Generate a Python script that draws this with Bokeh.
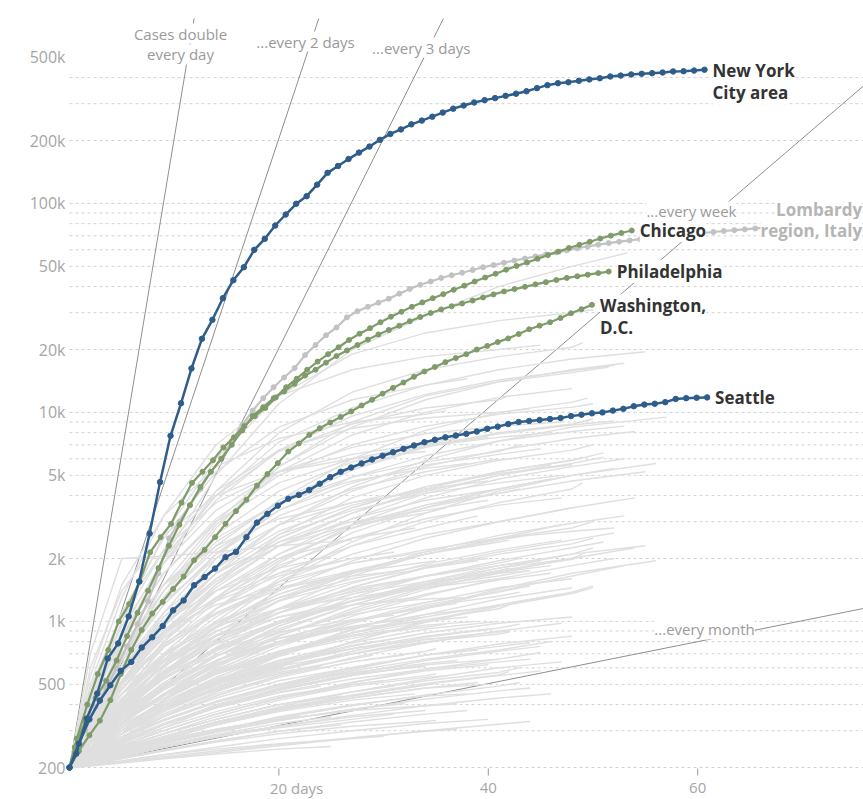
import math

from bokeh.plotting import figure
from bokeh.models import Range1d, Label
from bokeh.core.properties import value
from bokeh.embed import file_html
from bokeh.resources import INLINE

# ---------------------------------------------------------------- data
# Cumulative cases, by days since the 200th case (log scale).
nyc_first = 0.65
nyc = [200, 233, 343, 452, 664, 785, 1056, 1554, 2634, 4640, 7730, 11060, 16220,
       22500, 27740, 35200, 42900, 49500, 60000, 67700, 78400, 88500, 99600,
       108300, 123000, 140000, 151000, 163000, 175000, 187000, 201500, 215000,
       226000, 239000, 249000, 260000, 272000, 284000, 294000, 304000, 312000,
       319000, 327000, 335000, 344000, 356000, 368000, 376000, 380000, 386000,
       392000, 397000, 405000, 409000, 414000, 417000, 420000, 423000, 428000,
       429000, 432000, 436000]

chicago_first = 0.7
chicago = [200, 275, 400, 560, 730, 1000, 1210, 1550, 2140, 2530, 2930, 3700, 4600,
           5200, 5900, 6800, 7600, 8600, 9600, 10500, 11800, 13200, 14500, 16000,
           17500, 19000, 20500, 22200, 23800, 25300, 27000, 28700, 30300, 32000,
           33600, 35200, 36800, 38600, 40400, 42300, 44200, 46100, 48200, 50200,
           52200, 54300, 56600, 58800, 61200, 63400, 65600, 67900, 70100, 72200,
           74200]

philly_first = 0.5
philly = [200, 250, 330, 430, 520, 650, 850, 1100, 1400, 1800, 2300, 2900, 3600,
          4400, 5200, 6000, 7000, 8200, 9600, 10600, 11700, 12600, 13700, 15000,
          16000, 17300, 18600, 19800, 21000, 22300, 23600, 24800, 26000, 27300,
          28600, 29900, 31100, 32200, 33200, 34300, 35500, 36700, 37900, 38900,
          39900, 41000, 42000, 43000, 44000, 44800, 45600, 46400, 47200]

dc_first = 0.9
dc = [200, 240, 285, 335, 420, 560, 730, 910, 1090, 1240, 1430, 1640, 1960, 2200,
      2530, 2930, 3370, 3820, 4460, 5070, 5720, 6500, 7100, 7800, 8400, 8950,
      9500, 10100, 10800, 11500, 12300, 13100, 13900, 14800, 15700, 16500, 17400,
      18200, 19000, 20000, 20800, 21700, 22600, 23700, 25000, 26000, 27000, 28300,
      29800, 31200, 32700]

seattle_first = 0.9
seattle = [200, 260, 340, 418, 495, 580, 640, 750, 840, 950, 1130, 1260, 1490,
           1630, 1790, 2030, 2150, 2530, 2970, 3270, 3580, 3860, 4030, 4250, 4560,
           4900, 5200, 5450, 5700, 5950, 6200, 6450, 6700, 6950, 7200, 7400, 7600,
           7750, 7900, 8100, 8350, 8550, 8800, 9000, 9100, 9200, 9300, 9400, 9600,
           9750, 9900, 10000, 10200, 10400, 10700, 10900, 11000, 11200, 11600,
           11700, 11750, 11800]

lombardy_first = 0.5
lombardy = [200, 240, 300, 390, 480, 600, 760, 970, 1250, 1700, 2500, 3000, 3600,
            4300, 5200, 6000, 7300, 8700, 10200, 11700, 13200, 14700, 16300, 18800,
            21000, 23400, 25500, 28500, 30500, 32000, 33500, 35000, 37000, 39000,
            40800, 42300, 44000, 45300, 46600, 48000, 49500, 50700, 52000, 53300,
            54500, 55800, 57000, 58300, 59600, 61000, 62200, 63500, 64600, 65600,
            66500, 67400, 68200, 69000, 69800, 70600, 71400, 72200, 73000, 73800,
            74500, 75200, 75900, 76500, 77100, 77700, 78300, 78800, 79300]

# Other metro areas: values on a shared day grid, the last one at the end day.
gray_grid = [0, 2, 5, 9, 14, 20, 27, 34, 41, 48, 55]
gray_end_days = [
    53.3, 50, 53, 51.5, 49, 48, 49.5, 45, 38, 42, 36, 57, 50, 44, 52, 55,
    46, 50, 53, 47, 49, 40, 41, 44, 39, 36, 46, 40, 34, 30, 48, 54, 51, 43, 37,
    50, 52, 51, 27, 44, 33, 42, 38, 31, 33, 47, 43, 45, 50, 53, 44, 29, 26, 24,
    34, 47, 40, 36, 49, 55,
    46, 44, 40, 37, 35, 30, 25, 22, 38, 42, 36, 40, 28, 31, 45, 48, 33, 26,
    39, 43, 29, 35, 23, 47, 41, 32,
    45, 43, 41, 39, 37, 35, 33, 32, 30, 28, 27, 24, 21, 46, 44, 42, 38, 36, 34,
    31, 29, 26, 48, 40, 34, 44, 30, 37, 22, 42,
    52, 50, 48, 46, 45, 43, 41, 39, 37, 35, 33, 31, 54, 56, 52, 50, 47, 44, 38,
    42, 49, 53, 36, 28, 25,
    51, 48, 45, 43, 40, 38, 35, 54, 52, 49, 46, 56, 53, 47, 50, 55, 52,
    47, 45, 43, 40, 38, 36, 34, 32, 30, 28, 26, 24, 20, 18, 44, 41, 39, 37, 35,
    33, 31, 29, 27, 25, 46, 48, 42, 50, 44, 47,
]
gray_values = [
    [200, 350, 800, 2000, 5000, 11000, 20000, 29000, 40000, 50000, 58000],
    [200, 400, 1000, 2600, 6000, 12000, 19000, 24000, 27500, 30000, 31000],
    [200, 330, 700, 1500, 3000, 5500, 8500, 11500, 14000, 16000, 17200],
    [200, 300, 600, 1300, 2800, 5500, 9000, 12000, 14000, 15500, 16500],
    [200, 350, 800, 1900, 4200, 8000, 12500, 16000, 18500, 20500, 21500],
    [200, 320, 650, 1400, 2900, 5200, 7800, 10000, 11800, 13000],
    [200, 280, 500, 1000, 2000, 3800, 6000, 8200, 10000, 11200, 11700],
    [200, 500, 1300, 3200, 7000, 12000, 16000, 18500, 20000, 21000],
    [200, 450, 1100, 2500, 5200, 8500, 11500, 13500, 14500],
    [200, 380, 900, 2000, 4000, 6500, 8800, 10500, 11500, 12000],
    [200, 550, 1500, 3200, 5500, 7500, 9000, 9800, 10200],
    [200, 300, 520, 950, 1700, 2900, 4400, 5900, 7300, 8500, 9500],
    [200, 360, 700, 1300, 2300, 3800, 5400, 6900, 8000, 8800, 9300],
    [200, 420, 1000, 2200, 4200, 6600, 8400, 9400, 10000, 10400],
    [200, 300, 560, 1100, 2100, 3600, 5300, 6800, 7900, 8700, 9100],
    [200, 290, 470, 800, 1300, 2000, 2800, 3500, 4100, 4700, 5200],
    [200, 350, 700, 1400, 2600, 4200, 5800, 6900, 7600, 8000],
    [200, 260, 420, 800, 1500, 2600, 3900, 5000, 5900, 6600, 7000],
    [200, 250, 380, 650, 1150, 1900, 2900, 3900, 4800, 5500, 6000],
    [200, 300, 550, 1000, 1700, 2600, 3400, 4100, 4600, 5000],
    [200, 240, 350, 560, 950, 1550, 2300, 3000, 3700, 4300, 4600],
    [200, 320, 600, 1050, 1700, 2400, 3000, 3400, 3800],
    [200, 350, 650, 1200, 2100, 3200, 4300, 5200, 6000],
    [200, 300, 520, 900, 1500, 2300, 3100, 3800, 4300, 4600],
    [200, 270, 420, 700, 1150, 1700, 2300, 2800, 3200],
    [200, 330, 600, 1000, 1600, 2300, 2900, 3300, 3500],
    [200, 320, 560, 950, 1550, 2400, 3300, 4200, 5000, 5600],
    [200, 400, 850, 1700, 3000, 4600, 6000, 7000, 7600],
    [200, 600, 1400, 2600, 4000, 5200, 6000, 6500],
    [200, 420, 850, 1500, 2300, 3100, 3700, 4000],
    [200, 270, 420, 680, 1050, 1550, 2100, 2600, 3000, 3500],
    [200, 270, 400, 620, 950, 1400, 1950, 2500, 3000, 3500, 3900],
    [200, 320, 560, 950, 1600, 2500, 3500, 4400, 5200, 5900, 6400],
    [200, 380, 760, 1400, 2400, 3700, 4900, 5800, 6500, 7000],
    [200, 480, 1100, 2200, 3700, 5200, 6300, 7100, 7500],
    [200, 230, 320, 480, 750, 1150, 1650, 2100, 2500, 2800, 3000],
    [200, 280, 450, 750, 1100, 1500, 1900, 2200, 2500, 2700, 2800],
    [200, 220, 290, 420, 640, 950, 1300, 1650, 1950, 2250, 2400],
    [200, 700, 2000, 2050, 2150, 2300, 2450],
    [200, 260, 380, 580, 850, 1100, 1350, 1550, 1700, 1750],
    [200, 300, 480, 700, 950, 1150, 1300, 1450],
    [200, 230, 300, 420, 560, 720, 880, 1020, 1150, 1200],
    [200, 280, 420, 620, 850, 1050, 1200, 1280, 1300],
    [200, 250, 370, 600, 950, 1350, 1700, 1950],
    [200, 300, 520, 900, 1400, 2000, 2500, 2800],
    [200, 250, 360, 560, 850, 1250, 1700, 2100, 2500, 2900],
    [200, 240, 330, 480, 700, 1000, 1350, 1650, 1900, 2000],
    [200, 230, 300, 420, 600, 850, 1150, 1450, 1700, 1900],
    [200, 260, 380, 560, 800, 1100, 1450, 1800, 2100, 2350, 2500],
    [200, 230, 290, 380, 520, 700, 920, 1150, 1400, 1650, 1850],
    [200, 260, 370, 530, 740, 1000, 1250, 1480, 1650, 1750],
    [200, 260, 380, 560, 800, 1050, 1250, 1300],
    [200, 320, 560, 900, 1300, 1700, 1950],
    [200, 280, 450, 700, 1000, 1300, 1450],
    [200, 250, 340, 470, 630, 800, 950, 1050],
    [200, 240, 310, 410, 540, 700, 880, 1050, 1200, 1350],
    [200, 290, 450, 680, 980, 1300, 1600, 1850, 2000],
    [200, 310, 500, 780, 1150, 1550, 1900, 2150, 2250],
    [200, 250, 340, 480, 680, 950, 1250, 1550, 1800, 2000, 2100],
    [200, 240, 320, 450, 640, 900, 1200, 1500, 1800, 2100, 2300],
    [200, 215, 250, 310, 390, 480, 580, 660, 730, 800],
    [200, 220, 260, 320, 390, 460, 530, 590, 640, 660],
    [200, 210, 240, 280, 330, 380, 430, 480, 500],
    [200, 215, 240, 270, 305, 340, 375, 395, 404],
    [200, 205, 220, 240, 265, 290, 315, 332, 336],
    [200, 205, 215, 230, 245, 260, 275, 282],
    [200, 203, 210, 220, 232, 245, 252],
    [200, 230, 290, 380, 490, 600, 660],
    [200, 210, 230, 260, 300, 350, 400, 440, 450],
    [200, 225, 280, 360, 460, 580, 700, 820, 890, 900],
    [200, 215, 245, 290, 350, 420, 490, 540, 550],
    [200, 235, 300, 390, 500, 620, 740, 850, 920],
    [200, 240, 310, 410, 530, 650, 740, 760],
    [200, 210, 225, 250, 280, 310, 340, 360],
    [200, 220, 255, 300, 360, 430, 510, 590, 660, 710],
    [200, 240, 300, 390, 500, 630, 760, 880, 980, 1050],
    [200, 225, 265, 320, 390, 470, 550, 610],
    [200, 220, 250, 290, 340, 400, 440],
    [200, 250, 330, 440, 570, 710, 850, 960, 1000],
    [200, 212, 235, 265, 300, 345, 395, 445, 490, 510],
    [200, 280, 400, 540, 690, 830, 940, 980],
    [200, 230, 280, 350, 440, 540, 640, 720, 740],
    [200, 210, 230, 255, 285, 315, 330],
    [200, 230, 280, 350, 440, 550, 670, 790, 900, 980],
    [200, 260, 350, 470, 620, 780, 940, 1080, 1180],
    [200, 350, 600, 900, 1200, 1450, 1650, 1750],
    [200, 210, 235, 270, 320, 380, 440, 500, 550, 580],
    [200, 220, 250, 290, 340, 400, 460, 520, 570, 600],
    [200, 225, 265, 320, 390, 470, 550, 620, 660],
    [200, 215, 240, 275, 320, 375, 430, 480, 510],
    [200, 230, 275, 335, 410, 490, 570, 630, 650],
    [200, 220, 255, 300, 360, 430, 500, 550, 560],
    [200, 215, 240, 275, 320, 370, 420, 450],
    [200, 235, 290, 360, 450, 550, 640, 690],
    [200, 225, 260, 310, 370, 440, 500, 520],
    [200, 215, 235, 265, 300, 340, 375, 380],
    [200, 220, 255, 300, 360, 430, 490],
    [200, 240, 300, 380, 470, 560, 610],
    [200, 260, 340, 440, 560, 680, 700],
    [200, 210, 225, 250, 280, 315, 355, 395, 430, 450],
    [200, 230, 275, 335, 410, 500, 600, 690, 760, 790],
    [200, 240, 300, 380, 480, 590, 700, 800, 870, 890],
    [200, 245, 310, 400, 510, 630, 740, 820, 850],
    [200, 260, 340, 450, 580, 720, 850, 940, 970],
    [200, 270, 370, 500, 650, 800, 930, 1000],
    [200, 290, 410, 560, 730, 890, 1020, 1070],
    [200, 240, 300, 380, 470, 570, 660, 690],
    [200, 250, 320, 410, 510, 610, 690],
    [200, 220, 260, 320, 400, 490, 590, 690, 780, 850],
    [200, 205, 215, 230, 250, 275, 300, 325, 340],
    [200, 210, 228, 252, 282, 315, 350, 375],
    [200, 212, 232, 260, 295, 335, 380, 425, 465, 480],
    [200, 230, 280, 350, 430, 520, 600, 640],
    [200, 205, 213, 225, 240, 258, 278, 298, 305],
    [200, 215, 240, 270, 305, 340, 355],
    [200, 218, 245, 282, 330, 385, 445, 505, 555, 575],
    [200, 240, 310, 420, 580, 800, 1060, 1330, 1600, 1850, 2000],
    [200, 250, 340, 480, 680, 950, 1250, 1550, 1850, 2100, 2250],
    [200, 230, 290, 380, 510, 680, 880, 1080, 1280, 1450],
    [200, 260, 360, 510, 720, 980, 1250, 1500, 1720, 1850],
    [200, 280, 400, 580, 820, 1100, 1400, 1650, 1850, 1950],
    [200, 250, 330, 450, 610, 800, 1000, 1180, 1320, 1380],
    [200, 270, 380, 540, 750, 1000, 1250, 1450, 1600],
    [200, 300, 450, 660, 940, 1250, 1550, 1800, 1950],
    [200, 260, 360, 500, 680, 880, 1080, 1230, 1300],
    [200, 320, 500, 760, 1080, 1420, 1720, 1920, 1950],
    [200, 280, 400, 570, 780, 1000, 1200, 1300],
    [200, 350, 570, 880, 1250, 1650, 2000, 2150],
    [200, 250, 330, 450, 620, 850, 1120, 1420, 1720, 2000, 2250],
    [200, 230, 290, 380, 510, 690, 910, 1160, 1430, 1700, 1950],
    [200, 270, 380, 550, 790, 1100, 1460, 1820, 2150, 2450, 2650],
    [200, 220, 270, 350, 460, 610, 800, 1000, 1200, 1380, 1480],
    [200, 270, 390, 570, 820, 1150, 1520, 1880, 2200, 2450],
    [200, 240, 310, 420, 570, 760, 980, 1200, 1380, 1480],
    [200, 240, 310, 410, 540, 700, 860, 1000, 1050],
    [200, 300, 450, 680, 980, 1350, 1750, 2100, 2400, 2450],
    [200, 260, 350, 490, 680, 920, 1200, 1480, 1750, 1980, 2050],
    [200, 280, 410, 610, 890, 1260, 1700, 2150, 2580, 2950, 3200],
    [200, 290, 420, 610, 860, 1150, 1430, 1650, 1700],
    [200, 330, 520, 780, 1100, 1450, 1750, 1780],
    [200, 380, 650, 1000, 1400, 1800, 2050],
    [200, 300, 480, 800, 1300, 2100, 3100, 4100, 5000, 5700, 6100],
    [200, 330, 550, 950, 1600, 2500, 3500, 4400, 5100, 5600],
    [200, 380, 700, 1300, 2200, 3400, 4600, 5600, 6300, 6700],
    [200, 300, 500, 850, 1400, 2100, 2900, 3600, 4100, 4300],
    [200, 350, 620, 1100, 1800, 2700, 3600, 4300, 4700],
    [200, 420, 800, 1500, 2500, 3700, 4700, 5400, 5700],
    [200, 380, 700, 1250, 2000, 2900, 3700, 4200, 4300],
    [200, 330, 580, 1050, 1800, 2900, 4200, 5500, 6600, 7500, 8100],
    [200, 270, 420, 700, 1150, 1800, 2650, 3500, 4300, 5000, 5400],
    [200, 310, 510, 870, 1450, 2300, 3300, 4300, 5200, 5900, 6100],
    [200, 280, 450, 760, 1250, 1950, 2800, 3600, 4300, 4800],
    [200, 260, 390, 620, 1000, 1600, 2400, 3300, 4200, 5000, 5700],
    [200, 360, 650, 1200, 2100, 3400, 4900, 6200, 7300, 8100, 8600],
    [200, 450, 950, 1900, 3400, 5200, 6800, 7900, 8600, 9000],
    [200, 400, 850, 1700, 3100, 5000, 7000, 8600, 9800, 10600, 11000],
    [200, 400, 900, 2000, 4000, 7200, 10500, 13500, 16000, 18000, 19500],
    [200, 380, 850, 1900, 3800, 6600, 9600, 12200, 14300, 15800, 16800],
    [200, 215, 240, 280, 330, 390, 460, 530, 600, 640],
    [200, 225, 265, 320, 390, 470, 560, 650, 720, 760],
    [200, 235, 290, 370, 470, 590, 720, 840, 930, 970],
    [200, 220, 255, 300, 360, 430, 510, 580, 620],
    [200, 208, 222, 242, 268, 298, 330, 360, 375],
    [200, 240, 300, 380, 480, 590, 700, 790, 820],
    [200, 228, 270, 325, 395, 475, 560, 610],
    [200, 212, 232, 260, 295, 335, 380, 405],
    [200, 250, 330, 430, 560, 700, 830, 880],
    [200, 232, 280, 340, 415, 500, 580, 590],
    [200, 208, 222, 242, 268, 298, 320],
    [200, 228, 268, 320, 385, 455, 490],
    [200, 245, 310, 395, 500, 600],
    [200, 300, 450, 640, 860, 1050],
    [200, 205, 212, 222, 236, 254, 276, 300, 322, 332],
    [200, 250, 320, 410, 520, 650, 790, 920, 1000],
    [200, 230, 275, 335, 410, 500, 600, 690, 730],
    [200, 265, 360, 490, 650, 830, 1010, 1160, 1220],
    [200, 218, 245, 280, 325, 380, 440, 495, 505],
    [200, 245, 310, 400, 510, 640, 770, 860],
    [200, 220, 250, 290, 340, 400, 460, 490],
    [200, 300, 450, 650, 900, 1150, 1380, 1450],
    [200, 265, 360, 490, 650, 830, 1000],
    [200, 212, 230, 255, 288, 325, 350],
    [200, 260, 350, 480, 650, 860, 1100, 1350, 1580, 1700],
    [200, 250, 330, 440, 590, 780, 1000, 1230, 1450, 1600],
    [200, 270, 380, 530, 730, 980, 1260, 1520, 1750, 1800],
    [200, 235, 290, 370, 480, 620, 800, 990, 1180, 1360, 1450],
    [200, 290, 430, 640, 930, 1300, 1720, 2100, 2450, 2600],
    [200, 320, 520, 830, 1280, 1850, 2500, 3100, 3600, 3900],
]

# Reference growth rates: days needed for cases to double.
doubling_periods = [1, 2, 3, 7, 30]
doubling_labels = [["Cases double", "every day"], ["...every 2 days"],
                   ["...every 3 days"], ["...every week"], ["...every month"]]

grid_values = ([v * 100 for v in range(2, 10)] + [v * 1000 for v in range(1, 10)]
               + [v * 10000 for v in range(1, 10)] + [v * 100000 for v in range(1, 5)])
y_ticks = [200, 500, 1000, 2000, 5000, 10000, 20000, 50000, 100000, 200000, 500000]
y_tick_labels = ["200", "500", "1k", "2k", "5k", "10k", "20k", "50k", "100k", "200k", "500k"]
x_ticks = [20, 40, 60]
x_tick_labels = ["20 days", "40", "60"]

# ---------------------------------------------------------------- layout
W, H = 863, 799
PX_PER_DAY = 10.47
PX_PER_DECADE = 209.0
ORIGIN_X, ORIGIN_Y = 69, 767          # pixel position of day 0 / 200 cases
X_START = -ORIGIN_X / PX_PER_DAY
X_END = (W - ORIGIN_X) / PX_PER_DAY
Y_BOTTOM = 200 * 10 ** (-(H - ORIGIN_Y) / PX_PER_DECADE)
Y_TOP = 200 * 10 ** (ORIGIN_Y / PX_PER_DECADE)
LINE_CAP = 200 * 10 ** ((ORIGIN_Y - 18) / PX_PER_DECADE)

FONT = "Open Sans"
BLUE = "#2f5d8b"
GREEN = "#7f9b69"
LOMBARDY_GRAY = "#c2c2c2"
BG_GRAY = "#dfdfdf"
TEXT_DARK = "#333333"
TICK_GRAY = "#a6a6a6"


def nudge(day, val, dx=0.0, dy=0.0):
    """Move a data point by screen pixels (dy positive = down)."""
    return day + dx / PX_PER_DAY, val * 10 ** (-dy / PX_PER_DECADE)


def series_days(vals, first):
    return [0] + [first + i for i in range(len(vals) - 1)]


p = figure(width=W, height=H, x_range=Range1d(X_START, X_END),
           y_range=Range1d(Y_BOTTOM, Y_TOP), y_axis_type="log",
           x_axis_location=None, y_axis_location=None,
           toolbar_location=None, output_backend="svg", min_border=0)
p.outline_line_color = None
p.grid.visible = False
p.background_fill_color = "white"
p.border_fill_color = "white"

# horizontal dotted grid
p.segment(x0=[0] * len(grid_values), x1=[X_END] * len(grid_values),
          y0=grid_values, y1=grid_values, line_color="#d2d2d2",
          line_width=1, line_dash="3 3")

# doubling reference lines
ref_x, ref_y = [], []
for period in doubling_periods:
    end_day = min(period * math.log2(LINE_CAP / 200), X_END)
    ref_x.append([0, end_day])
    ref_y.append([200, 200 * 2 ** (end_day / period)])
p.multi_line(ref_x, ref_y, line_color="#8f8f8f", line_width=1)

# other metro areas
gx, gy = [], []
for end_day, vals in zip(gray_end_days, gray_values):
    gx.append(gray_grid[:len(vals) - 1] + [end_day])
    gy.append(vals)
p.multi_line(gx, gy, line_color=BG_GRAY, line_width=1.4)


# highlighted areas
def draw_series(vals, first, color, width, size):
    xs = series_days(vals, first)
    p.line(xs, vals, line_color=color, line_width=width)
    p.scatter(xs, vals, size=size, fill_color=color, line_color=color)
    return xs[-1], vals[-1]


lom_end = draw_series(lombardy, lombardy_first, LOMBARDY_GRAY, 2.2, 5)
chi_end = draw_series(chicago, chicago_first, GREEN, 2.2, 5)
phl_end = draw_series(philly, philly_first, GREEN, 2.2, 5)
dc_end = draw_series(dc, dc_first, GREEN, 2.2, 5)
sea_end = draw_series(seattle, seattle_first, BLUE, 2.5, 5.5)
nyc_end = draw_series(nyc, nyc_first, BLUE, 2.5, 5.5)


def end_label(end, lines, color, dx=8, dy0=0, align="left", step=22):
    for i, txt in enumerate(lines):
        lx, ly = nudge(end[0], end[1], dx, dy0 + i * step)
        p.add_layout(Label(x=lx, y=ly, text=txt, text_align=align,
                           text_baseline="middle", text_font=FONT,
                           text_font_size="17px", text_font_style="bold",
                           text_color=color, background_fill_color="white"))


end_label(nyc_end, ["New York", "City area"], TEXT_DARK, dy0=1)
end_label(chi_end, ["Chicago"], TEXT_DARK)
end_label(phl_end, ["Philadelphia"], TEXT_DARK)
end_label(dc_end, ["Washington,", "D.C."], TEXT_DARK, dy0=1)
end_label(sea_end, ["Seattle"], TEXT_DARK)
end_label(lom_end, ["Lombardy", "region, Italy"], "#b5b5b5", dx=44, dy0=-15,
          align="right", step=21)

# labels of doubling lines (drawn last so nothing covers them)
label_spots = [[(10.6, 650000), (10.6, 516000)], [(22.54, 595000)], [(33.6, 557000)],
               [(59.4, 91500)], [(60.65, 915)]]
for rows, spots in zip(doubling_labels, label_spots):
    for txt, (lx, ly) in zip(rows, spots):
        p.add_layout(Label(x=lx, y=ly, text=txt, text_align="center",
                           text_baseline="middle", text_font=FONT,
                           text_font_size="15px", text_color="#9a9a9a",
                           background_fill_color="white"))

# y tick labels
p.text(x=[0] * len(y_ticks), y=y_ticks, text=y_tick_labels, x_offset=-4,
       text_align="right", text_baseline="middle", text_font=value(FONT),
       text_font_size="16px", text_color=TICK_GRAY)

# x ticks and labels
tick_top = nudge(0, 200, dy=1)[1]
tick_bottom = nudge(0, 200, dy=8)[1]
p.segment(x0=x_ticks, x1=x_ticks, y0=[tick_top] * 3, y1=[tick_bottom] * 3,
          line_color="#9a9a9a", line_width=1)
label_y = nudge(0, 200, dy=20)[1]
p.text(x=x_ticks[:1], y=[label_y], text=x_tick_labels[:1], x_offset=-9,
       text_align="left", text_baseline="middle", text_font=value(FONT),
       text_font_size="15px", text_color=TICK_GRAY)
p.text(x=x_ticks[1:], y=[label_y] * 2, text=x_tick_labels[1:],
       text_align="center", text_baseline="middle", text_font=value(FONT),
       text_font_size="15px", text_color=TICK_GRAY)

open("out.html", "w").write(file_html(p, INLINE))
